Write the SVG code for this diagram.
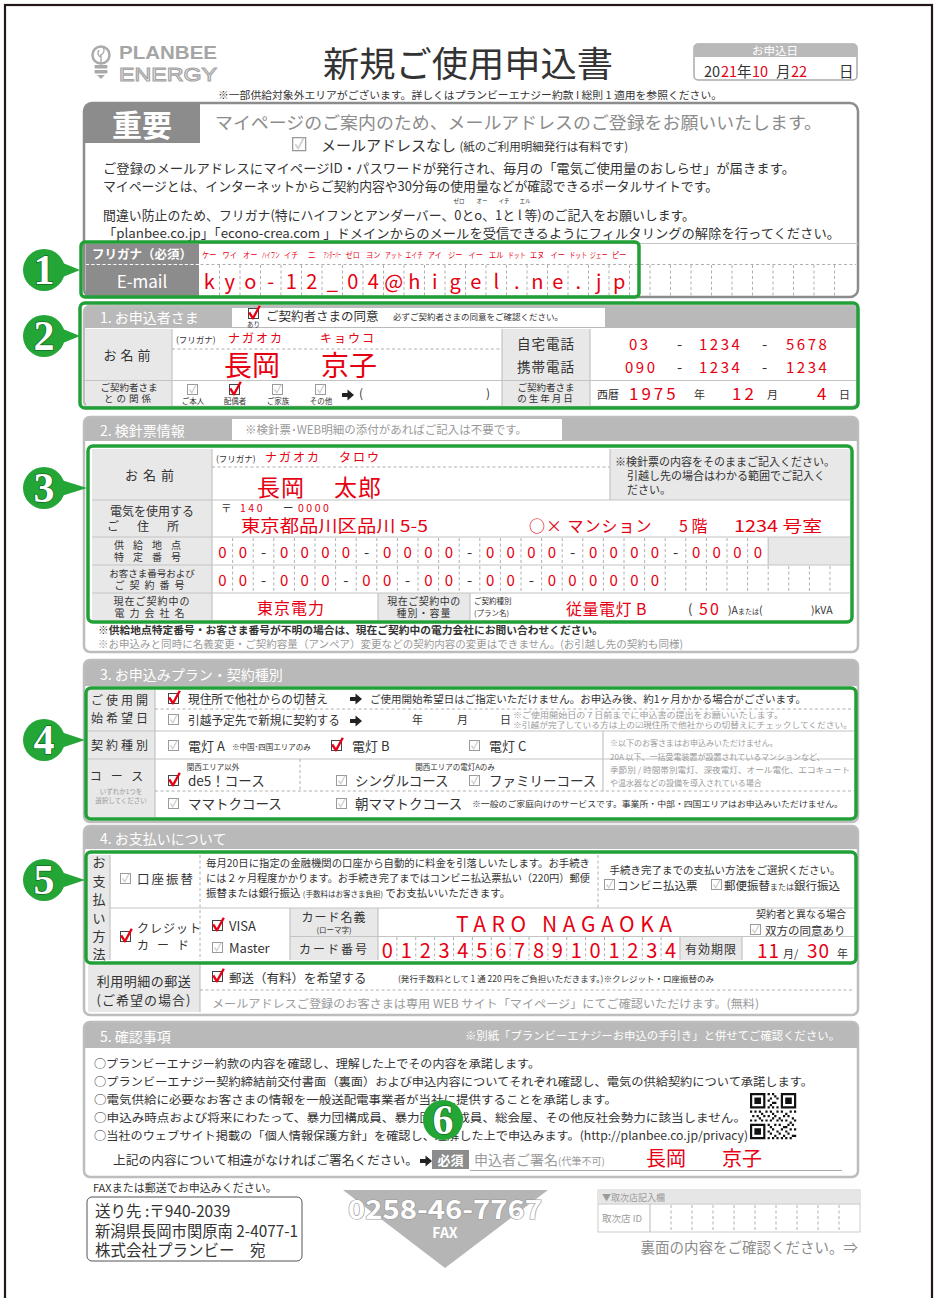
<svg xmlns="http://www.w3.org/2000/svg" width="939" height="1298" viewBox="0 0 939 1298">
<style>
text{font-family:"Noto Sans CJK JP","Noto Sans CJK SC",sans-serif;fill:#333}
.r{fill:#e60012}
.w{fill:#fff}
.g{fill:#8c8c8c}
.lg{fill:#9a9a9a}
.m{text-anchor:middle}
.e{text-anchor:end}
.hd{fill:#b9b9b9}
.lb{fill:#e8e8e8}
.sb{fill:none;stroke:#bdbdbd;stroke-width:2.5}
.ln{stroke:#c4c4c4;stroke-width:1.2;fill:none}
.ds{stroke:#b0b0b0;stroke-width:1;stroke-dasharray:3 2.5;fill:none}
.gb{fill:none;stroke:#22a038;stroke-width:3.5}
.bc{fill:#23a636}
.bn{font-family:"Liberation Serif",serif;font-weight:bold;font-size:42px;fill:#fff;text-anchor:middle;stroke:#0f6e20;stroke-width:1.5;paint-order:stroke}
.lat{font-family:"Liberation Sans",sans-serif}
.fu{fill:#e60012;text-anchor:middle;font-size:8px}
.dg{fill:#e60012;text-anchor:middle;font-size:15px}
.dh{text-anchor:middle;font-size:15px}
</style>
<defs>
<g id="cb"><rect x="0.5" y="0.5" width="10" height="10" fill="#fff" stroke="#9a9a9a"/><path d="M2.5 5.5l2.3 3.2 4.2-8" fill="none" stroke="#cfcfcf" stroke-width="1.3"/></g>
<g id="cbr"><rect x="0.5" y="0.5" width="10" height="10" fill="#fff" stroke="#444"/><path d="M1.2 4.5l3.8 5.8 6.8-12.5" fill="none" stroke="#e60012" stroke-width="2.4" stroke-linejoin="round"/></g>
<path id="arw" d="M0 -2h5.5v-3.5l6.5 5.5-6.5 5.5v-3.5h-5.5z" fill="#222"/>
</defs>
<rect width="939" height="1298" fill="#fff"/>
<rect x="5" y="5" width="927" height="1310" fill="none" stroke="#231815" stroke-width="2.2"/>

<g id="header">
 <g id="logo">
  <circle cx="101" cy="55" r="8.5" fill="none" stroke="#aaa" stroke-width="2.5"/>
  <path d="M101 63v-9M101 57c-3-1-4-4-2-7M101 55c3-2 4-5 2-8" fill="none" stroke="#aaa" stroke-width="1.4"/>
  <rect x="94.5" y="65" width="13" height="3.5" rx="1" fill="#aaa"/>
  <rect x="94.5" y="70" width="13" height="3.5" rx="1" fill="#aaa"/>
  <path d="M97 75h8l-4 4z" fill="#aaa"/>
  <text x="119" y="59" class="lat" font-size="18" font-weight="bold" style="fill:#a5a5a5" textLength="98" lengthAdjust="spacingAndGlyphs">PLANBEE</text>
  <text x="119" y="81" class="lat" font-size="19" style="fill:none;stroke:#a5a5a5;stroke-width:1.1" textLength="98" lengthAdjust="spacingAndGlyphs">ENERGY</text>
 </g>
 <text x="468" y="77" class="m" font-size="35" textLength="290" lengthAdjust="spacingAndGlyphs">新規ご使用申込書</text>
 <g id="date">
  <rect x="694" y="44" width="163" height="36" rx="4" fill="#fff" stroke="#aaa" stroke-width="1.5"/>
  <path d="M694 57V48a4 4 0 0 1 4-4H853a4 4 0 0 1 4 4V57Z" class="hd"/>
  <text x="775" y="55" class="w m" font-size="11.5">お申込日</text>
  <text y="77" font-size="14.5"><tspan x="704">20</tspan><tspan x="721" class="r">21</tspan><tspan x="737">年</tspan><tspan x="752" class="r">10</tspan><tspan x="776">月</tspan><tspan x="791" class="r">22</tspan><tspan x="839">日</tspan></text>
 </g>
 <text x="470" y="99" class="m" font-size="10.5" textLength="504" lengthAdjust="spacingAndGlyphs">※一部供給対象外エリアがございます。詳しくはプランビーエナジー約款 I 総則 1 適用を参照ください。</text>
</g>

<g id="important">
 <rect x="84" y="103" width="774" height="194" rx="8" fill="#fff" stroke="#8c8c8c" stroke-width="2.5"/>
 <path d="M84 143V111a8 8 0 0 1 8-8H200V143Z" fill="#8c8c8c"/>
 <text x="142" y="136" class="w m" font-size="30" font-weight="bold">重要</text>
 <text x="215" y="129" class="g" font-size="17.5" textLength="607" lengthAdjust="spacingAndGlyphs">マイページのご案内のため、メールアドレスのご登録をお願いいたします。</text>
 <use href="#cb" transform="translate(292,137) scale(1.3)"/>
 <text x="321" y="151" font-size="15">メールアドレスなし <tspan font-size="11.5">(紙のご利用明細発行は有料です)</tspan></text>
 <text x="103" y="173" font-size="13" textLength="692" lengthAdjust="spacingAndGlyphs">ご登録のメールアドレスにマイページID・パスワードが発行され、毎月の「電気ご使用量のおしらせ」が届きます。</text>
 <text x="103" y="191" font-size="13" textLength="615" lengthAdjust="spacingAndGlyphs">マイページとは、インターネットからご契約内容や30分毎の使用量などが確認できるポータルサイトです。</text>
 <text y="203" font-size="5.5" class="m"><tspan x="459">ゼロ</tspan><tspan x="482">オー</tspan><tspan x="504">イチ</tspan><tspan x="525">エル</tspan></text>
 <text x="103" y="220" font-size="13" textLength="592" lengthAdjust="spacingAndGlyphs">間違い防止のため、フリガナ(特にハイフンとアンダーバー、0とo、1と l 等)のご記入をお願いします。</text>
 <text x="103" y="238" font-size="13" textLength="737" lengthAdjust="spacingAndGlyphs">「planbee.co.jp」「econo-crea.com 」ドメインからのメールを受信できるようにフィルタリングの解除を行ってください。</text>
 <line x1="84" y1="243.5" x2="858" y2="243.5" class="ln"/>
 <g id="email">
  <rect x="85.5" y="244" width="113.5" height="52" fill="#8c8c8c"/>
  <line x1="85" y1="264.5" x2="856" y2="264.5" class="ds"/>
  <line x1="86" y1="264.5" x2="199" y2="264.5" stroke="#fff" stroke-dasharray="3 2.5"/>
  <text x="142" y="259" class="w m" font-size="12.5" font-weight="bold">フリガナ（必須）</text>
  <text x="142" y="288" class="w m" font-size="17">E-mail</text>
  <path class="ds" d="M219.5 265V296M240 265V296M260.5 265V296M281 265V296M301.5 265V296M322 265V296M342.5 265V296M363 265V296M383.5 265V296M404 265V296M424.5 265V296M445 265V296M465.5 265V296M486 265V296M506.5 265V296M527 265V296M547.5 265V296M568 265V296M588.5 265V296M609 265V296M629.5 265V296M650 265V296M670.5 265V296M691 265V296M711.5 265V296M732 265V296M752.5 265V296M773 265V296M793.5 265V296M814 265V296M834.5 265V296"/>
  <text class="fu" transform="translate(209.25,258) scale(0.9,1)">ケー</text>
  <text class="fu" transform="translate(229.75,258) scale(0.9,1)">ワイ</text>
  <text class="fu" transform="translate(250.25,258) scale(0.9,1)">オー</text>
  <text class="fu" transform="translate(270.75,258) scale(0.55,1)">ハイフン</text>
  <text class="fu" transform="translate(291.25,258) scale(0.9,1)">イチ</text>
  <text class="fu" transform="translate(311.75,258)">ニ</text>
  <text class="fu" transform="translate(332.25,258) scale(0.37,1)">アンダーバー</text>
  <text class="fu" transform="translate(352.75,258) scale(0.9,1)">ゼロ</text>
  <text class="fu" transform="translate(373.25,258) scale(0.9,1)">ヨン</text>
  <text class="fu" transform="translate(393.75,258) scale(0.72,1)">アット</text>
  <text class="fu" transform="translate(414.25,258) scale(0.72,1)">エイチ</text>
  <text class="fu" transform="translate(434.75,258) scale(0.9,1)">アイ</text>
  <text class="fu" transform="translate(455.25,258) scale(0.9,1)">ジー</text>
  <text class="fu" transform="translate(475.75,258) scale(0.9,1)">イー</text>
  <text class="fu" transform="translate(496.25,258) scale(0.9,1)">エル</text>
  <text class="fu" transform="translate(516.75,258) scale(0.72,1)">ドット</text>
  <text class="fu" transform="translate(537.25,258) scale(0.9,1)">エヌ</text>
  <text class="fu" transform="translate(557.75,258) scale(0.9,1)">イー</text>
  <text class="fu" transform="translate(578.25,258) scale(0.72,1)">ドット</text>
  <text class="fu" transform="translate(598.75,258) scale(0.72,1)">ジェー</text>
  <text class="fu" transform="translate(619.25,258) scale(0.9,1)">ピー</text>
  <text class="r m" font-size="20" y="289" x="209.25 229.75 250.25 270.75 291.25 311.75 332.25 352.75 373.25 393.75 414.25 434.75 455.25 475.75 496.25 516.75 537.25 557.75 578.25 598.75 619.25">kyo-12_04@higel.ne.jp</text>
 </g>
</g>

<g id="sec1">
 <rect x="84" y="306" width="774" height="101" rx="6" fill="#fff"/>
 <path d="M84 328V312a6 6 0 0 1 6-6H852a6 6 0 0 1 6 6V328Z" class="hd"/>
 <rect x="84" y="306" width="774" height="101" rx="6" class="sb"/>
 <text x="100" y="323" class="w" font-size="14">1. お申込者さま</text>
 <rect x="232" y="308" width="373" height="19" fill="#fff"/>
 <use href="#cbr" x="248" y="308"/>
 <text x="253.5" y="327" class="m" font-size="6.5">あり</text>
 <text x="266" y="321" font-size="12.5">ご契約者さまの同意</text>
 <text x="393" y="320" font-size="8.5">必ずご契約者さまの同意をご確認ください。</text>
 <rect x="86" y="329" width="86" height="51" class="lb"/>
 <rect x="86" y="381" width="86" height="25" class="lb"/>
 <rect x="502" y="329" width="88" height="51" class="lb"/>
 <rect x="502" y="381" width="88" height="25" class="lb"/>
 <path class="ln" d="M85 380.5H857M172 329V406M502 329V406M590 329V406"/>
 <line x1="172" y1="349" x2="502" y2="349" class="ds"/>
 <text x="129" y="360" class="m" font-size="13" letter-spacing="4">お名前</text>
 <text x="176" y="343" font-size="8.5">(フリガナ)</text>
 <text x="228" y="343" class="r" font-size="12" letter-spacing="2">ナガオカ</text>
 <text x="320" y="343" class="r" font-size="12" letter-spacing="2">キョウコ</text>
 <text x="224" y="376" class="r" font-size="28">長岡</text>
 <text x="321" y="376" class="r" font-size="28">京子</text>
 <text x="546" y="349" class="m" font-size="13.5" letter-spacing="1">自宅電話</text>
 <text x="546" y="372" class="m" font-size="13.5" letter-spacing="1">携帯電話</text>
 <text y="350" font-size="15" letter-spacing="2.5"><tspan x="629" class="r">03</tspan><tspan x="677">-</tspan><tspan x="699" class="r">1234</tspan><tspan x="762">-</tspan><tspan x="786" class="r">5678</tspan></text>
 <text y="373" font-size="15" letter-spacing="2.5"><tspan x="625" class="r">090</tspan><tspan x="677">-</tspan><tspan x="699" class="r">1234</tspan><tspan x="762">-</tspan><tspan x="786" class="r">1234</tspan></text>
 <text x="129" y="391" class="m" font-size="9.5">ご契約者さま</text>
 <text x="129" y="402" class="m" font-size="9.5" letter-spacing="3">との関係</text>
 <use href="#cb" x="187" y="384"/><use href="#cbr" x="229" y="384"/><use href="#cb" x="272" y="384"/><use href="#cb" x="315" y="384"/>
 <text x="193" y="404" font-size="7.5" class="m">ご本人</text>
 <text x="235" y="404" font-size="7.5" class="m">配偶者</text>
 <text x="278" y="404" font-size="7.5" class="m">ご家族</text>
 <text x="321" y="404" font-size="7.5" class="m">その他</text>
 <use href="#arw" x="342" y="395"/>
 <text x="359" y="398" font-size="12">(</text>
 <text x="486" y="398" font-size="12">)</text>
 <text x="546" y="391" class="m" font-size="9.5">ご契約者さま</text>
 <text x="546" y="402" class="m" font-size="9.5" letter-spacing="2">の生年月日</text>
 <text x="597" y="399" font-size="11">西暦</text>
 <text x="629" y="400" class="r" font-size="17" letter-spacing="3">1975</text>
 <text x="694" y="399" font-size="11">年</text>
 <text x="732" y="400" class="r" font-size="17" letter-spacing="3">12</text>
 <text x="767" y="399" font-size="11">月</text>
 <text x="817" y="400" class="r" font-size="17">4</text>
 <text x="839" y="399" font-size="11">日</text>
</g>

<g id="sec2">
 <rect x="84" y="417" width="774" height="235" rx="6" fill="#fff"/>
 <path d="M84 441V423a6 6 0 0 1 6-6H852a6 6 0 0 1 6 6V441Z" class="hd"/>
 <rect x="84" y="417" width="774" height="235" rx="6" class="sb"/>
 <text x="100" y="436" class="w" font-size="14">2. 検針票情報</text>
 <rect x="232" y="419" width="330" height="21" fill="#fff"/>
 <text x="245" y="434" class="lg" font-size="11.5">※検針票･WEB明細の添付があればご記入は不要です。</text>
 <rect x="92" y="449" width="120" height="171" class="lb"/>
 <rect x="610" y="449" width="240" height="51" class="lb"/>
 <rect x="768" y="537" width="82" height="28" class="lb"/>
 <rect x="378" y="593" width="92" height="27" class="lb"/>
 <path class="ln" d="M92 500H850M92 537H850M92 565H850M92 593H850M212 449V620M610 449V500M378 593V620M470 593V620M768.2 537V565"/>
 <line x1="212" y1="467" x2="610" y2="467" class="ds"/>
 <text x="152" y="480" class="m" font-size="13" letter-spacing="5">お名前</text>
 <text x="216" y="462" font-size="8.5">(フリガナ)</text>
 <text x="265" y="462" class="r" font-size="12" letter-spacing="2">ナガオカ</text>
 <text x="339" y="462" class="r" font-size="12" letter-spacing="2">タロウ</text>
 <text x="257" y="496" class="r" font-size="23" letter-spacing="1">長岡</text>
 <text x="334" y="496" class="r" font-size="23" letter-spacing="1">太郎</text>
 <text x="615" y="466" font-size="11">※検針票の内容をそのままご記入ください。</text>
 <text x="627" y="480" font-size="11">引越し先の場合はわかる範囲でご記入く</text>
 <text x="627" y="494" font-size="11">ださい。</text>
 <text x="152" y="516" class="m" font-size="12">電気を使用する</text>
 <text x="152" y="531" class="m" font-size="12" letter-spacing="18">ご住所</text>
 <text y="512" font-size="10.5"><tspan x="221">〒</tspan><tspan x="240" class="r" letter-spacing="2.5">140</tspan><tspan x="283">ー</tspan><tspan x="298" class="r" letter-spacing="2.5">0000</tspan></text>
 <text x="241" y="532" class="r" font-size="16.5" textLength="187" lengthAdjust="spacingAndGlyphs">東京都品川区品川 5-5</text>
 <text x="529" y="532" class="r" font-size="16" letter-spacing="1">○× マンション</text>
 <text x="679" y="532" class="r" font-size="16">5 階</text>
 <text x="734" y="532" class="r" font-size="16" textLength="88" lengthAdjust="spacingAndGlyphs">1234 号室</text>
 <text x="152" y="549" class="m" font-size="10" letter-spacing="9">供給地点</text>
 <text x="152" y="561" class="m" font-size="10" letter-spacing="9">特定番号</text>
 <text x="152" y="577" class="m" font-size="9.5">お客さま番号および</text>
 <text x="152" y="589" class="m" font-size="10" letter-spacing="5">ご契約番号</text>
 <text x="152" y="605" class="m" font-size="10" letter-spacing="1">現在ご契約中の</text>
 <text x="152" y="617" class="m" font-size="10" letter-spacing="5">電力会社名</text>
 <path class="ds" d="M232.6 538V565M253.2 538V565M273.8 538V565M294.4 538V565M315 538V565M335.6 538V565M356.2 538V565M376.8 538V565M397.4 538V565M418 538V565M438.6 538V565M459.2 538V565M479.8 538V565M500.4 538V565M521 538V565M541.6 538V565M562.2 538V565M582.8 538V565M603.4 538V565M624 538V565M644.6 538V565M665.2 538V565M685.8 538V565M706.4 538V565M727 538V565M747.6 538V565"/>
 <path class="ds" d="M232.6 566V593M253.2 566V593M273.8 566V593M294.4 566V593M315 566V593M335.6 566V593M356.2 566V593M376.8 566V593M397.4 566V593M418 566V593M438.6 566V593M459.2 566V593M479.8 566V593M500.4 566V593M521 566V593M541.6 566V593M562.2 566V593M582.8 566V593M603.4 566V593M624 566V593M644.6 566V593M665.2 566V593M685.8 566V593M706.4 566V593M727 566V593M747.6 566V593M768.2 566V593M788.8 566V593M809.4 566V593M830 566V593"/>
 <g id="supply-no">
  <text class="dg" y="558" x="222.3 242.9">00</text>
  <text class="dh" y="558" x="263.5">-</text>
  <text class="dg" y="558" x="284.1 304.7 325.3 345.9">0000</text>
  <text class="dh" y="558" x="366.5">-</text>
  <text class="dg" y="558" x="387.1 407.7 428.3 448.9">0000</text>
  <text class="dh" y="558" x="469.5">-</text>
  <text class="dg" y="558" x="490.1 510.7 531.3 551.9">0000</text>
  <text class="dh" y="558" x="572.5">-</text>
  <text class="dg" y="558" x="593.1 613.7 634.3 654.9">0000</text>
  <text class="dh" y="558" x="675.5">-</text>
  <text class="dg" y="558" x="696.1 716.7 737.3 757.9">0000</text>
 </g>
 <g id="customer-no">
  <text class="dg" y="586" x="222.3 242.9">00</text>
  <text class="dh" y="586" x="263.5">-</text>
  <text class="dg" y="586" x="284.1 304.7 325.3">000</text>
  <text class="dh" y="586" x="345.9">-</text>
  <text class="dg" y="586" x="366.5 387.1">00</text>
  <text class="dh" y="586" x="407.7">-</text>
  <text class="dg" y="586" x="428.3 448.9">00</text>
  <text class="dh" y="586" x="469.5">-</text>
  <text class="dg" y="586" x="490.1 510.7">00</text>
  <text class="dh" y="586" x="531.3">-</text>
  <text class="dg" y="586" x="551.9 572.5 593.1 613.7 634.3 654.9">000000</text>
 </g>
 <text x="257" y="614" class="r" font-size="16" letter-spacing="1">東京電力</text>
 <text x="424" y="605" class="m" font-size="10" letter-spacing="0.5">現在ご契約中の</text>
 <text x="424" y="617" class="m" font-size="10" letter-spacing="1">種別・容量</text>
 <text x="474" y="604" font-size="7.5">ご契約種別</text>
 <text x="474" y="616" font-size="7.5">(プラン名)</text>
 <text x="566" y="615" class="r" font-size="16" letter-spacing="0.5">従量電灯 B</text>
 <text x="688" y="614" font-size="13">(</text>
 <text x="699" y="615" class="r" font-size="16" letter-spacing="2">50</text>
 <text x="728" y="614" font-size="10.5">)A<tspan font-size="7">または</tspan>(</text>
 <text x="811" y="614" font-size="10.5">)kVA</text>
 <rect x="88" y="446" width="764" height="176" rx="5" class="gb"/>
 <text x="98" y="634" font-size="10.5" font-weight="bold" textLength="505" lengthAdjust="spacingAndGlyphs">※供給地点特定番号・お客さま番号が不明の場合は、現在ご契約中の電力会社にお問い合わせください。</text>
 <text x="98" y="648" class="lg" font-size="10.5" textLength="585" lengthAdjust="spacingAndGlyphs">※お申込みと同時に名義変更・ご契約容量（アンペア）変更などの契約内容の変更はできません。(お引越し先の契約も同様)</text>
</g>

<g id="sec3">
 <rect x="84" y="660" width="774" height="162" rx="6" fill="#fff"/>
 <path d="M84 686V666a6 6 0 0 1 6-6H852a6 6 0 0 1 6 6V686Z" class="hd"/>
 <rect x="84" y="660" width="774" height="162" rx="6" class="sb"/>
 <text x="100" y="680" class="w" font-size="14">3. お申込みプラン・契約種別</text>
 <rect x="88" y="690" width="67" height="127" class="lb"/>
 <path class="ln" d="M88 731H854M88 759H854M155 690V817M603 731V791"/>
 <path class="ds" d="M155 709H854M155 791H854M300 759V791"/>
 <text x="121" y="705" class="m" font-size="12" letter-spacing="3">ご使用開</text>
 <text x="121" y="723" class="m" font-size="12" letter-spacing="3">始希望日</text>
 <use href="#cbr" x="168" y="693"/>
 <text x="188" y="704" font-size="12.5" textLength="140" lengthAdjust="spacingAndGlyphs">現住所で他社からの切替え</text>
 <use href="#arw" x="350" y="699"/>
 <text x="370" y="703" font-size="10.5" textLength="436" lengthAdjust="spacingAndGlyphs">ご使用開始希望日はご指定いただけません。お申込み後、約1ヶ月かかる場合がございます。</text>
 <use href="#cb" x="168" y="714"/>
 <text x="188" y="725" font-size="12.5" textLength="152" lengthAdjust="spacingAndGlyphs">引越予定先で新規に契約する</text>
 <use href="#arw" x="350" y="721"/>
 <text x="412" y="724" font-size="11">年</text>
 <text x="457" y="724" font-size="11">月</text>
 <text x="500" y="724" font-size="11">日</text>
 <text x="513" y="718" class="lg" font-size="7.5" textLength="270" lengthAdjust="spacingAndGlyphs">※ご使用開始日の７日前までに申込書の提出をお願いいたします。</text>
 <text x="513" y="728" class="lg" font-size="7.5" textLength="339" lengthAdjust="spacingAndGlyphs">※引越が完了している方は上の☑現住所で他社からの切替えにチェックしてください。</text>
 <text x="121" y="750" class="m" font-size="12" letter-spacing="3">契約種別</text>
 <use href="#cb" x="168" y="740"/>
 <text x="188" y="751" font-size="13">電灯 A</text>
 <text x="232" y="750" font-size="7.5">※中国･四国エリアのみ</text>
 <use href="#cbr" x="331" y="740"/>
 <text x="352" y="751" font-size="13">電灯 B</text>
 <use href="#cb" x="469" y="740"/>
 <text x="489" y="751" font-size="13">電灯 C</text>
 <text x="610" y="746" class="lg" font-size="8">※以下のお客さまはお申込みいただけません。</text>
 <text x="610" y="760" class="lg" font-size="8">20A 以下、一括受電装置が設置されているマンションなど、</text>
 <text x="610" y="773" class="lg" font-size="8" textLength="240" lengthAdjust="spacingAndGlyphs">季節別 / 時間帯別電灯、深夜電灯、オール電化、エコキュート</text>
 <text x="610" y="786" class="lg" font-size="8">や温水器などの設備を導入されている場合</text>
 <text x="121" y="781" class="m" font-size="12" letter-spacing="9">コース</text>
 <text x="121" y="794" class="m lg" font-size="6.5">いずれか1つを</text>
 <text x="121" y="803" class="m lg" font-size="6.5">選択してください</text>
 <text x="213" y="770" class="m" font-size="7.5">関西エリア以外</text>
 <text x="455" y="770" class="m" font-size="7.5">関西エリアの電灯Aのみ</text>
 <use href="#cbr" x="168" y="775"/>
 <text x="188" y="786" font-size="13.5">de5！コース</text>
 <use href="#cb" x="336" y="775"/>
 <text x="355" y="786" font-size="13.5">シングルコース</text>
 <use href="#cb" x="469" y="775"/>
 <text x="489" y="786" font-size="13.5">ファミリーコース</text>
 <use href="#cb" x="168" y="798"/>
 <text x="188" y="809" font-size="13.5">ママトクコース</text>
 <use href="#cb" x="336" y="798"/>
 <text x="355" y="809" font-size="13.5">朝ママトクコース</text>
 <text x="472" y="807" font-size="8" textLength="371" lengthAdjust="spacingAndGlyphs">※一般のご家庭向けのサービスです。事業所・中部・四国エリアはお申込みいただけません。</text>
 <rect x="86" y="688" width="770" height="131" rx="5" class="gb"/>
</g>

<g id="sec4">
 <rect x="84" y="826" width="774" height="189" rx="6" fill="#fff"/>
 <path d="M84 849V832a6 6 0 0 1 6-6H852a6 6 0 0 1 6 6V849Z" class="hd"/>
 <rect x="84" y="826" width="774" height="189" rx="6" class="sb"/>
 <text x="100" y="844" class="w" font-size="14">4. お支払いについて</text>
 <rect x="88" y="855" width="22" height="105" class="lb"/>
 <rect x="290" y="908" width="88" height="52" class="lb"/>
 <rect x="680" y="937" width="62" height="23" class="lb"/>
 <rect x="88" y="965" width="112" height="47" class="lb"/>
 <path class="ln" d="M110 908H854M110 855V960M290 908V960M378 908V960M290 936.5H854M680 937V960M742 937V960M88 962.5H856M200 963V1012"/>
 <path class="ds" d="M200 855V960M598 855V908M200 990H854"/>
 <text class="m" font-size="13" x="99"><tspan x="99" y="867">お</tspan><tspan x="99" y="886">支</tspan><tspan x="99" y="904">払</tspan><tspan x="99" y="923">い</tspan><tspan x="99" y="941">方</tspan><tspan x="99" y="959">法</tspan></text>
 <use href="#cb" x="120" y="873"/>
 <text x="137" y="884" font-size="12.5" letter-spacing="2">口座振替</text>
 <text x="206" y="867" font-size="10.5" textLength="384" lengthAdjust="spacingAndGlyphs">毎月20日に指定の金融機関の口座から自動的に料金を引落しいたします。お手続き</text>
 <text x="206" y="882" font-size="10.5" textLength="384" lengthAdjust="spacingAndGlyphs">には２ヶ月程度かかります。お手続き完了まではコンビニ払込票払い（220円）郵便</text>
 <text x="206" y="897" font-size="10.5">振替または銀行振込 <tspan font-size="7.5">(手数料はお客さま負担)</tspan> でお支払いいただきます。</text>
 <text x="725" y="874" class="m" font-size="10.5">手続き完了までの支払い方法をご選択ください。</text>
 <use href="#cb" x="604" y="879"/>
 <text x="617" y="890" font-size="11.5">コンビニ払込票</text>
 <use href="#cb" x="711" y="879"/>
 <text x="724" y="890" font-size="11.5">郵便振替<tspan font-size="8">または</tspan>銀行振込</text>
 <use href="#cbr" x="120" y="931"/>
 <text x="137" y="933" font-size="12" letter-spacing="1">クレジット</text>
 <text x="137" y="950" font-size="12" letter-spacing="8">カード</text>
 <use href="#cbr" x="212" y="920"/>
 <text x="229" y="931" font-size="13">VISA</text>
 <use href="#cb" x="212" y="942"/>
 <text x="229" y="953" font-size="13">Master</text>
 <text x="334" y="922" class="m" font-size="12" letter-spacing="1">カード名義</text>
 <text x="334" y="933" class="m" font-size="7.5">(ローマ字)</text>
 <text x="334" y="954" class="m" font-size="12" letter-spacing="2">カード番号</text>
 <text x="456" y="932" class="r" font-size="21" textLength="216" lengthAdjust="spacing">TARO NAGAOKA</text>
 <text x="801" y="918" class="m" font-size="10">契約者と異なる場合</text>
 <use href="#cb" x="750" y="924"/>
 <text x="765" y="935" font-size="11.5">双方の同意あり</text>
 <path class="ds" d="M396.9 937V960M415.75 937V960M434.6 937V960M453.5 937V960M472.4 937V960M491.25 937V960M510.1 937V960M529 937V960M547.9 937V960M566.75 937V960M585.6 937V960M604.5 937V960M623.4 937V960M642.25 937V960M661.1 937V960"/>
 <text class="r m" font-size="20" y="958" x="387.4 406.3 425.2 444.1 462.9 481.8 500.7 519.6 538.5 557.3 576.2 595.1 614 632.9 651.8 670.6">0123456789101234</text>
 <text x="711" y="954" class="m" font-size="12" letter-spacing="1">有効期限</text>
 <text x="757" y="958" class="r" font-size="19" letter-spacing="1">11</text>
 <text x="783" y="958" font-size="11">月/</text>
 <text x="807" y="958" class="r" font-size="19" letter-spacing="1">30</text>
 <text x="837" y="958" font-size="11">年</text>
 <rect x="86" y="852" width="770" height="111" rx="5" class="gb"/>
 <text x="144" y="986" class="m" font-size="13" letter-spacing="0.5">利用明細の郵送</text>
 <text x="144" y="1005" class="m" font-size="13" letter-spacing="1">(ご希望の場合)</text>
 <use href="#cbr" x="212" y="971"/>
 <text x="229" y="983" font-size="12.5">郵送（有料）を希望する</text>
 <text x="398" y="982" font-size="8.5" textLength="316" lengthAdjust="spacingAndGlyphs">(発行手数料として 1 通 220 円をご負担いただきます。)※クレジット・口座振替のみ</text>
 <text x="212" y="1008" class="lg" font-size="11.5" textLength="547" lengthAdjust="spacingAndGlyphs">メールアドレスご登録のお客さまは専用 WEB サイト「マイページ」にてご確認いただけます。(無料)</text>
</g>

<g id="sec5">
 <rect x="84" y="1022" width="774" height="155" rx="6" fill="#fff"/>
 <path d="M84 1048V1028a6 6 0 0 1 6-6H852a6 6 0 0 1 6 6V1048Z" class="hd"/>
 <rect x="84" y="1022" width="774" height="155" rx="6" class="sb"/>
 <text x="100" y="1042" class="w" font-size="14">5. 確認事項</text>
 <text x="840" y="1040" class="w e" font-size="11" textLength="375" lengthAdjust="spacingAndGlyphs">※別紙「プランビーエナジーお申込の手引き」と併せてご確認ください。</text>
 <text x="94" y="1068" font-size="11.5" textLength="446" lengthAdjust="spacingAndGlyphs">○プランビーエナジー約款の内容を確認し、理解した上でその内容を承諾します。</text>
 <text x="94" y="1086" font-size="11.5" textLength="719" lengthAdjust="spacingAndGlyphs">○プランビーエナジー契約締結前交付書面（裏面）および申込内容についてそれぞれ確認し、電気の供給契約について承諾します。</text>
 <text x="94" y="1104" font-size="11.5" textLength="523" lengthAdjust="spacingAndGlyphs">○電気供給に必要なお客さまの情報を一般送配電事業者が当社に提供することを承諾します。</text>
 <text x="94" y="1122" font-size="11.5" textLength="652" lengthAdjust="spacingAndGlyphs">○申込み時点および将来にわたって、暴力団構成員、暴力団準構成員、総会屋、その他反社会勢力に該当しません。</text>
 <text x="94" y="1140" font-size="11.5" textLength="654" lengthAdjust="spacingAndGlyphs">○当社のウェブサイト掲載の「個人情報保護方針」を確認し、理解した上で申込みます。(http://planbee.co.jp/privacy)</text>
 <g id="qr" transform="translate(750,1093) scale(2.2)">
  <path fill="#111" d="M0 0h7v7h-7zM14 0h7v7h-7zM0 14h7v7h-7z"/>
  <path fill="#fff" d="M1 1h5v5h-5zM15 1h5v5h-5zM1 15h5v5h-5z"/>
  <path fill="#111" d="M2 2h3v3h-3zM16 2h3v3h-3zM2 16h3v3h-3zM8 0h1v1h-1zM10 0h1v1h-1zM11 1h1v1h-1zM9 2h1v1h-1zM12 2h1v1h-1zM8 3h1v1h-1zM10 4h2v1h-2zM9 5h1v1h-1zM12 6h1v1h-1zM8 6h1v1h-1zM10 6h1v1h-1zM0 8h1v1h-1zM2 8h1v1h-1zM4 8h1v1h-1zM5 9h1v1h-1zM7 8h1v1h-1zM9 8h1v1h-1zM10 9h1v1h-1zM12 8h1v1h-1zM14 8h1v1h-1zM16 9h1v1h-1zM18 8h1v1h-1zM20 8h1v1h-1zM1 10h1v1h-1zM3 10h1v1h-1zM6 10h1v1h-1zM8 10h1v1h-1zM11 10h1v1h-1zM13 11h1v1h-1zM15 10h1v1h-1zM17 10h1v1h-1zM19 11h1v1h-1zM0 12h1v1h-1zM2 12h1v1h-1zM5 12h1v1h-1zM7 12h1v1h-1zM9 12h1v1h-1zM12 12h1v1h-1zM14 12h1v1h-1zM16 12h1v1h-1zM18 13h1v1h-1zM20 12h1v1h-1zM4 11h1v1h-1zM10 11h1v1h-1zM8 14h1v1h-1zM9 15h1v1h-1zM11 14h1v1h-1zM13 14h1v1h-1zM15 15h1v1h-1zM17 14h1v1h-1zM19 14h1v1h-1zM20 16h1v1h-1zM8 17h1v1h-1zM10 16h1v1h-1zM12 17h1v1h-1zM14 16h1v1h-1zM16 17h1v1h-1zM18 16h1v1h-1zM9 18h1v1h-1zM11 19h1v1h-1zM13 18h1v1h-1zM15 19h1v1h-1zM17 18h1v1h-1zM19 19h1v1h-1zM8 20h1v1h-1zM10 20h1v1h-1zM12 20h1v1h-1zM14 20h1v1h-1zM16 20h1v1h-1zM18 20h1v1h-1zM20 19h1v1h-1zM16 15h1v1h-1z"/>
 </g>
 <text x="113" y="1165" font-size="12" textLength="305" lengthAdjust="spacingAndGlyphs">上記の内容について相違がなければご署名ください。</text>
 <use href="#arw" x="420" y="1161"/>
 <rect x="432" y="1150" width="37" height="19" fill="#8c8c8c"/>
 <text x="450.5" y="1165" class="w m" font-size="13" font-weight="bold">必須</text>
 <text x="474" y="1165" class="lg" font-size="14">申込者ご署名<tspan font-size="10">(代筆不可)</tspan></text>
 <text x="646" y="1166" class="r" font-size="20">長岡</text>
 <text x="722" y="1166" class="r" font-size="20">京子</text>
 <line x1="470" y1="1170.5" x2="842" y2="1170.5" stroke="#aaa" stroke-width="1"/>
</g>

<g id="footer">
 <text x="93" y="1192" font-size="11">FAXまたは郵送でお申込みください。</text>
 <rect x="87" y="1197" width="215" height="64" rx="5" fill="none" stroke="#555" stroke-width="1"/>
 <text x="95" y="1217" font-size="15.5">送り先 :〒940-2039</text>
 <text x="95" y="1237" font-size="15.5" textLength="203" lengthAdjust="spacingAndGlyphs">新潟県長岡市関原南 2-4077-1</text>
 <text x="95" y="1256" font-size="15.5">株式会社プランビー　宛</text>
 <polygon points="343,1190 548,1190 445,1268" fill="#b5b5b5"/>
 <text x="445" y="1219" class="m" font-size="26" font-weight="bold" style="fill:#fff;stroke:#999;stroke-width:1.2;paint-order:stroke" textLength="194" lengthAdjust="spacingAndGlyphs">0258-46-7767</text>
 <text x="445" y="1238" class="w m" font-size="14" font-weight="bold">FAX</text>
 <rect x="598" y="1190" width="262" height="42" fill="#fff" stroke="#ccc"/>
 <rect x="598.5" y="1190.5" width="261" height="13" fill="#e6e6e6"/>
 <text x="602" y="1201" class="lg" font-size="9">▼取次店記入欄</text>
 <text x="602" y="1222" class="lg" font-size="9.5">取次店 ID</text>
 <path class="ln" d="M598 1204H860M650 1204V1232"/>
 <path class="ds" d="M671 1205V1232M692 1205V1232M713 1205V1232M734 1205V1232M755 1205V1232M776 1205V1232M797 1205V1232M818 1205V1232M839 1205V1232"/>
 <text x="858" y="1253" class="e g" font-size="14.5">裏面の内容をご確認ください。⇒</text>
</g>

<g id="section-boxes">
 <rect x="81" y="242" width="558" height="55" rx="4" class="gb"/>
 <rect x="80" y="303" width="778" height="105" rx="5" class="gb"/>
</g>

<g id="connectors">
 <path d="M58 261L80 270L58 279Z" class="bc"/>
 <path d="M58 327L80 336L58 345Z" class="bc"/>
 <path d="M58 479L87 488L58 497Z" class="bc"/>
 <path d="M58 731L85 740L58 749Z" class="bc"/>
 <path d="M58 871L85 880L58 889Z" class="bc"/>
</g>

<g id="badges">
 <g id="b1"><circle cx="44" cy="270" r="21" class="bc"/><text x="44" y="284" class="bn">1</text></g>
 <g id="b2"><circle cx="44" cy="336" r="21" class="bc"/><text x="44" y="350" class="bn">2</text></g>
 <g id="b3"><circle cx="44" cy="488" r="21" class="bc"/><text x="44" y="502" class="bn">3</text></g>
 <g id="b4"><circle cx="44" cy="740" r="21" class="bc"/><text x="44" y="754" class="bn">4</text></g>
 <g id="b5"><circle cx="44" cy="880" r="21" class="bc"/><text x="44" y="894" class="bn">5</text></g>
 <g id="b6"><circle cx="443" cy="1120" r="20" class="bc"/><text x="443" y="1134" class="bn">6</text></g>
</g>
</svg>
